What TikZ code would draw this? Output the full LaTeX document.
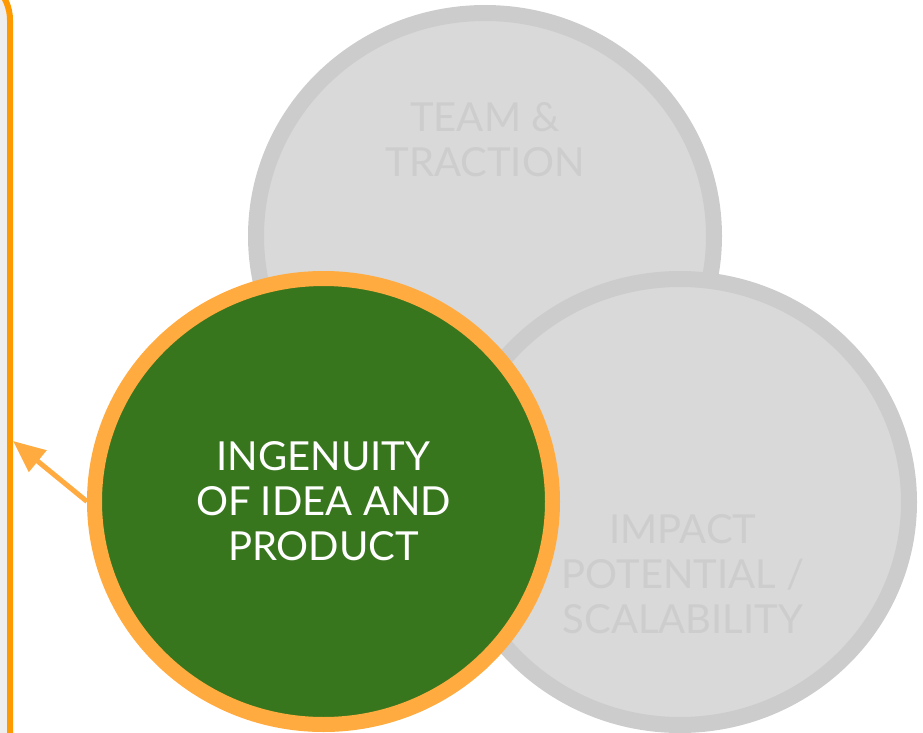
\documentclass[tikz,border=0pt]{standalone}
\usepackage{fontspec}
\setmainfont{Lato}
\usetikzlibrary{arrows.meta,shapes.geometric}
\definecolor{panelgray}{HTML}{EEEEEE}
\definecolor{borderorange}{HTML}{FF9900}
\definecolor{ringorange}{HTML}{FFAB40}
\definecolor{leafgreen}{HTML}{38761D}
\definecolor{bubblegray}{HTML}{D9D9D9}
\definecolor{ringgray}{HTML}{CCCCCC}
\definecolor{labelgray}{HTML}{CDCDCD}

\begin{document}
\begin{tikzpicture}[x=1pt,y=-1pt,
  bubble/.style={ellipse,line width=16pt,draw=ringgray,fill=bubblegray,minimum width=458pt,minimum height=446pt,inner sep=0pt},
  bubbletext/.style={align=center,text=labelgray,font=\fontsize{40}{45}\selectfont},
  pointer/.style={-{Triangle[length=32pt,width=27pt]},line width=5pt,draw=ringorange}]

  \useasboundingbox (0,0) rectangle (923,733);
  \draw[line width=6pt,draw=borderorange,fill=panelgray,rounded corners=45pt] (-100,-25) rectangle (10,800);

  \node[bubble] (team) at (485,236) {};
  \node[bubble] (impact) at (680,502) {};
  \node[bubble,draw=ringorange,fill=leafgreen,line width=15pt,
        text=white,align=center,font=\fontsize{40}{45}\selectfont] (ingenuity) at (323.5,501.5)
        {INGENUITY\\OF IDEA AND\\PRODUCT};

  \node[bubbletext] at ([yshift=96pt]team.center) {TEAM \&\\TRACTION};
  \node[bubbletext] at ([xshift=3pt,yshift=-72pt]impact.center) {IMPACT\\POTENTIAL /\\SCALABILITY};

  \coordinate (hit) at (13,441);
  \draw[pointer] (ingenuity.west) -- (hit);

\end{tikzpicture}
\end{document}
